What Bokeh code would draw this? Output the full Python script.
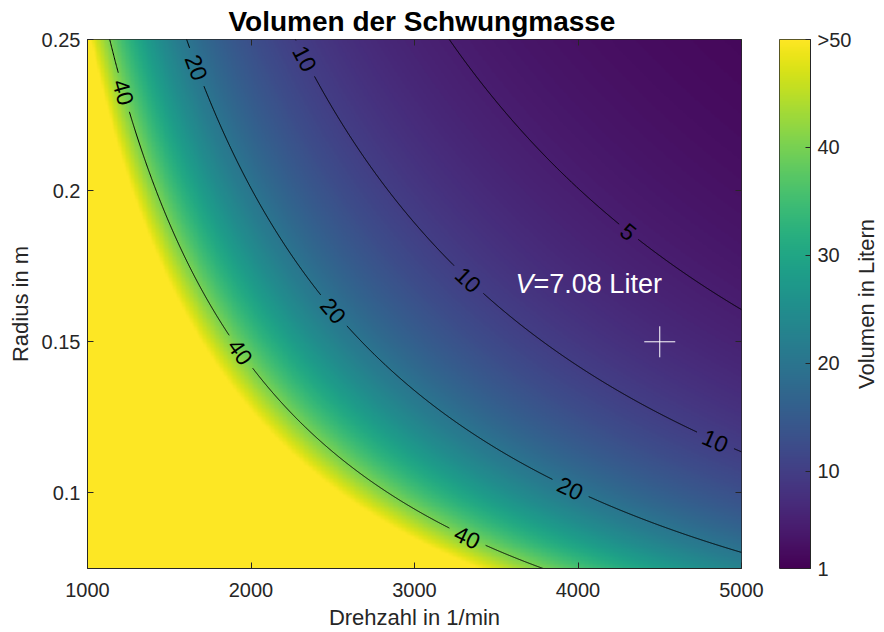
import numpy as np
from bokeh.plotting import figure
from bokeh.models import (LinearColorMapper, FixedTicker, LinearAxis, Label, ColumnDataSource,
                          CustomLabelingPolicy)
from bokeh.layouts import row
from bokeh.palettes import Viridis256
from bokeh.embed import file_html
from bokeh.resources import INLINE
from bokeh.core.properties import value

# Operating point of the flywheel
speed_ref = 4500      # 1/min
radius_ref = 0.15     # m
volume_ref = 7.08     # Liter

speed_range = [1000, 5000]
radius_range = [0.075, 0.25]
contour_levels = [5, 10, 20, 40]
x_ticks = [1000, 2000, 3000, 4000, 5000]
y_ticks = [0.1, 0.15, 0.2, 0.25]
cbar_ticks = [1, 10, 20, 30, 40, 50]
cbar_labels = ["1", "10", "20", "30", "40", ">50"]
vol_min, vol_max = 1, 50

# where the inline contour labels sit (speed along each iso-line)
label_speeds = {40: [1221, 1936, 3324], 20: [1668, 2505, 3954],
                10: [2330, 3330, 4841], 5: [4309]}

FONT = "Liberation Sans"
AX_COLOR = "#262626"
FRAME_W, FRAME_H = 654, 530


def volume(n, r):
    # same stored energy everywhere: V ~ 1 / (n^2 r^2)
    return volume_ref * (speed_ref / n) ** 2 * (radius_ref / r) ** 2


def radius_on_level(n, level):
    return radius_ref * (speed_ref / n) * np.sqrt(volume_ref / level)


def to_screen(n, r):
    sx = (n - speed_range[0]) / (speed_range[1] - speed_range[0]) * FRAME_W
    sy = (r - radius_range[0]) / (radius_range[1] - radius_range[0]) * FRAME_H
    return sx, sy


def no_labels():
    # tick marks only, no tick texts at all
    return CustomLabelingPolicy(code="""
        const all = [...indices]
        for (const i of all) indices.unset(i)
        return indices
    """)


mapper = LinearColorMapper(palette=Viridis256, low=vol_min, high=vol_max)

p = figure(width=770, height=632, x_range=speed_range, y_range=radius_range,
           output_backend="svg", toolbar_location=None,
           min_border_left=87, min_border_right=29, min_border_top=39, min_border_bottom=63,
           background_fill_color="white", border_fill_color="white")

# volume field
n_grid = np.linspace(speed_range[0], speed_range[1], 500)
r_grid = np.linspace(radius_range[0], radius_range[1], 400)
N, R = np.meshgrid(n_grid, r_grid)
field = volume(N, R)
p.image(image=[field], x=speed_range[0], y=radius_range[0],
        dw=speed_range[1] - speed_range[0], dh=radius_range[1] - radius_range[0],
        color_mapper=mapper)

# iso-volume lines, broken where the labels go
n_line = np.linspace(speed_range[0], speed_range[1], 2000)
lab_x, lab_y, lab_t, lab_a = [], [], [], []
for level in contour_levels:
    r_line = radius_on_level(n_line, level)
    sx, sy = to_screen(n_line, r_line)
    keep = np.ones_like(n_line, dtype=bool)
    gap = 12 if level < 10 else 20
    for nl in label_speeds[level]:
        rl = radius_on_level(nl, level)
        lx, ly = to_screen(nl, rl)
        keep &= np.hypot(sx - lx, sy - ly) > gap
        # slope of the line on screen
        dn = 1.0
        x2, y2 = to_screen(nl + dn, radius_on_level(nl + dn, level))
        lab_x.append(nl)
        lab_y.append(rl)
        lab_t.append(str(level))
        lab_a.append(np.arctan2(y2 - ly, x2 - lx))
    yy = np.where(keep, r_line, np.nan)
    p.line(n_line, yy, line_color="black", line_width=1)

p.text(x="x", y="y", text="t", angle="a",
       source=ColumnDataSource(dict(x=lab_x, y=lab_y, t=lab_t, a=lab_a)),
       text_align="center", text_baseline="middle", text_color="black",
       text_font=value(FONT), text_font_size="23px")

# operating point
p.scatter(x=[speed_ref], y=[radius_ref], marker="cross", size=31,
          line_color="white", line_width=1)
p.add_layout(Label(x=3618, y=0.1692, text="V", text_font_style="italic",
                   text_color="white", text_font=FONT, text_font_size="27px",
                   text_baseline="middle"))
p.add_layout(Label(x=3618, y=0.1692, x_offset=18, text=f"={volume_ref:.2f} Liter",
                   text_color="white", text_font=FONT, text_font_size="27px",
                   text_baseline="middle"))

# axes
p.grid.visible = False
p.outline_line_color = AX_COLOR
p.outline_line_width = 1
p.title.text = "Volumen der Schwungmasse"
p.title.align = "left"
p.title.offset = 141
p.title.text_font = FONT
p.title.text_font_size = "28px"
p.title.text_font_style = "bold"
p.title.text_color = "black"
p.title.standoff = 6

p.xaxis.ticker = FixedTicker(ticks=x_ticks)
p.yaxis.ticker = FixedTicker(ticks=y_ticks)
p.yaxis.major_label_overrides = {t: f"{t:g}" for t in y_ticks}
p.xaxis.axis_label = "Drehzahl in 1/min"
p.yaxis.axis_label = "Radius in m"
for ax in (p.xaxis[0], p.yaxis[0]):
    ax.major_tick_in = 6
    ax.major_tick_out = 0
    ax.minor_tick_line_color = None
    ax.axis_line_color = AX_COLOR
    ax.major_tick_line_color = AX_COLOR
    ax.major_label_text_font = FONT
    ax.major_label_text_font_size = "20px"
    ax.major_label_text_color = AX_COLOR
    ax.axis_label_text_font = FONT
    ax.axis_label_text_font_size = "22px"
    ax.axis_label_text_font_style = "normal"
    ax.axis_label_text_color = AX_COLOR
p.yaxis.major_label_standoff = 7
p.yaxis.axis_label_standoff = 6
p.xaxis.major_label_standoff = 14
p.xaxis.axis_label_standoff = 5

for side, ticks in (("above", x_ticks), ("right", y_ticks)):
    ax = LinearAxis(ticker=FixedTicker(ticks=ticks), major_tick_in=6, major_tick_out=0,
                    minor_tick_line_color=None, major_label_text_font_size="0px",
                    major_label_policy=no_labels(),
                    major_label_standoff=0, axis_line_color=None,
                    major_tick_line_color=AX_COLOR)
    p.add_layout(ax, side)

# colour bar as its own narrow panel
cb = figure(width=84, height=632, x_range=(0, 1), y_range=(vol_min, vol_max),
            output_backend="svg", toolbar_location=None,
            x_axis_location=None, y_axis_location="right",
            min_border_left=9, min_border_right=41, min_border_top=39, min_border_bottom=63,
            background_fill_color="white", border_fill_color="white")
gradient = np.linspace(vol_min, vol_max, 256).reshape(256, 1)
cb.image(image=[gradient], x=0, y=vol_min, dw=1, dh=vol_max - vol_min, color_mapper=mapper)
cb.grid.visible = False
cb.outline_line_color = AX_COLOR
cax = cb.yaxis[0]
cax.ticker = FixedTicker(ticks=cbar_ticks)
cax.major_label_overrides = dict(zip(cbar_ticks, cbar_labels))
cax.major_tick_in = 5
cax.major_tick_out = 0
cax.minor_tick_line_color = None
cax.axis_line_color = AX_COLOR
cax.major_tick_line_color = AX_COLOR
cax.major_label_text_font = FONT
cax.major_label_text_font_size = "20px"
cax.major_label_text_color = AX_COLOR
cax.major_label_standoff = 7

# colour-bar caption: a bare left axis of a thin strip, so it reads bottom to top
cap = figure(width=30, height=632, x_range=(0, 1), y_range=(vol_min, vol_max),
             output_backend="svg", toolbar_location=None,
             x_axis_location=None, y_axis_location="left",
             min_border_left=24, min_border_right=0, min_border_top=39, min_border_bottom=63,
             background_fill_color="white", border_fill_color="white")
cap.grid.visible = False
cap.outline_line_color = None
kax = cap.yaxis[0]
kax.axis_label = "Volumen in Litern"
kax.axis_label_text_font = FONT
kax.axis_label_text_font_size = "22px"
kax.axis_label_text_font_style = "normal"
kax.axis_label_text_color = AX_COLOR
kax.axis_label_standoff = 0
kax.major_label_text_font_size = "0px"
kax.major_label_policy = no_labels()
kax.major_label_standoff = 0
kax.major_tick_line_color = None
kax.minor_tick_line_color = None
kax.axis_line_color = None

layout = row(p, cb, cap)
open("out.html", "w").write(file_html(layout, INLINE))
